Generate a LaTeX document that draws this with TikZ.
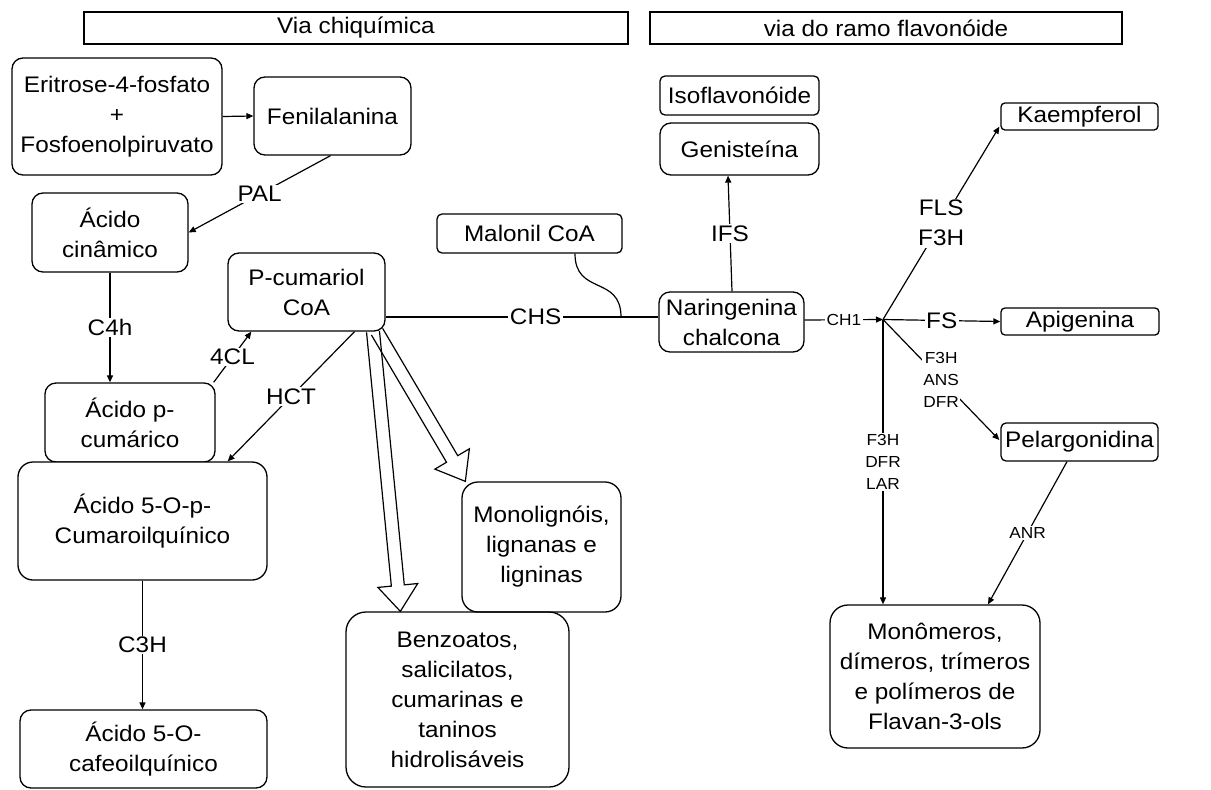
\documentclass[tikz,border=0pt]{standalone}
\usepackage{fontspec}
\setmainfont{Liberation Sans}[FakeStretch=1.08]
\usetikzlibrary{arrows.meta,calc}
\begin{document}
\begin{tikzpicture}[x=1pt,y=-1pt,
  every node/.style={font=\fontsize{22.5}{30}\selectfont},
  box/.style={draw, line width=1.3pt, rounded corners=11pt, align=center, inner sep=0pt},
  sbox/.style={box, rounded corners=5pt},
  hdr/.style={draw, line width=1.5pt, inner sep=0pt},
  lbl/.style={fill=white, inner sep=1.5pt, align=center},
  slbl/.style={lbl, font=\fontsize{16}{22}\selectfont},
  conn/.style={line width=1.2pt},
  arr/.style={conn, -{Triangle[length=7pt,width=6pt]}},
  hollow/.style={line width=1.2pt, line join=miter}
]
\useasboundingbox (0,0) rectangle (1211,790);

% headers
\node[hdr, minimum width=544pt, minimum height=32pt] (hl) at (356,28) {Via chiquímica};
\node[hdr, minimum width=472pt, minimum height=32pt] (hr) at (886,28) {via do ramo flavonóide};

% left side
\node[box, minimum width=210pt, minimum height=117pt] (erit) at (117,116.5) {Eritrose-4-fosfato\\+\\Fosfoenolpiruvato};
\node[box, minimum width=157pt, minimum height=78pt] (fenil) at (332.5,116) {Fenilalanina};
\node[box, minimum width=156pt, minimum height=79pt] (cinam) at (110,232.5) {Ácido\\cinâmico};
\node[box, minimum width=157pt, minimum height=78pt] (pcum) at (306.5,292) {P-cumariol\\CoA};
\node[box, minimum width=170pt, minimum height=79pt] (pcumar) at (130,422.5) {Ácido p-\\cumárico};
\node[box, rounded corners=15pt, minimum width=249pt, minimum height=118pt, fill=white] (cumaro) at (142.5,521) {Ácido 5-O-p-\\Cumaroilquínico};
\node[box, minimum width=247pt, minimum height=78pt] (cafeo) at (143.5,749) {Ácido 5-O-\\cafeoilquínico};
\node[box, rounded corners=16pt, minimum width=159pt, minimum height=130pt] (monol) at (541.5,547) {Monolignóis,\\lignanas e\\ligninas};
\node[box, rounded corners=20pt, minimum width=223pt, minimum height=175pt] (benzo) at (457.5,699.5) {Benzoatos,\\salicilatos,\\cumarinas e\\taninos\\hidrolisáveis};
\node[sbox, minimum width=185pt, minimum height=39pt] (malon) at (529.5,233.5) {Malonil CoA};

% right side
\node[box, minimum width=145pt, minimum height=60pt] (naring) at (731.5,322) {Naringenina\\chalcona};
\node[sbox, minimum width=159pt, minimum height=39pt] (isoflav) at (739.5,95.5) {Isoflavonóide};
\node[box, minimum width=159pt, minimum height=52pt] (genist) at (739.5,149) {Genisteína};
\node[sbox, rounded corners=4pt, minimum width=157pt, minimum height=27pt] (kaemp) at (1079.5,116.5) {Kaempferol};
\node[sbox, rounded corners=4pt, minimum width=158pt, minimum height=27pt] (apig) at (1080,321.5) {Apigenina};
\node[sbox, minimum width=157pt, minimum height=38pt] (pelarg) at (1079.5,442) {Pelargonidina};
\node[box, rounded corners=18pt, minimum width=210pt, minimum height=143pt] (monom) at (935,676.5) {Monômeros,\\dímeros, trímeros\\e polímeros de\\Flavan-3-ols};

% left connectors
\draw[arr] (erit.east) -- (fenil.west);
\draw[arr] ($(fenil.south)+(-2,0)$) -- node[lbl]{PAL} (cinam.east);
\draw[arr] (cinam.south) -- node[lbl]{C4h} (cinam.south |- pcumar.north);
\draw[arr] ($(pcumar.north east)+(-2,0)$) -- node[lbl]{4CL} ($(pcum.south west)+(24,0)$);
\draw[arr] ($(pcum.south)+(48,0)$) -- node[lbl]{HCT} ($(cumaro.north east)+(-40,0)$);
\draw[arr] (cumaro.south) -- node[lbl]{C3H} (cumaro.south |- cafeo.north);

% CHS line and malonil
\coordinate (chs) at (0,317);
\coordinate (mjoin) at (621,317);
\draw[conn] (pcum.east |- chs) -- node[lbl,pos=0.55]{CHS} (naring.west |- chs);
\draw[conn] ($(malon.south)+(45.5,0)$) .. controls +(0,42) and +(0,-42) .. (mjoin);

% hollow arrows
\coordinate (s1) at ($(pcum.south)+(66.5,0)$);
\coordinate (t1) at ($(benzo.north west)+(55,0)$);
\coordinate (s2) at ($(pcum.south)+(70.5,0)$);
\coordinate (t2) at ($(monol.north west)+(4,0)$);
\coordinate (b1) at ($(t1)!26pt!(s1)$);
\coordinate (b2) at ($(t2)!26pt!(s2)$);
\draw[hollow] ($(s2)!6.5pt!90:(t2)$) -- ($(b2)!6.5pt!90:(t2)$) -- ($(b2)!20pt!90:(t2)$) -- (t2)
  -- ($(b2)!20pt!-90:(t2)$) -- ($(b2)!6.5pt!-90:(t2)$) -- ($(s2)!6.5pt!-90:(t2)$);
\draw[hollow] ($(s1)!6.5pt!90:(t1)$) -- ($(b1)!6.5pt!90:(t1)$) -- ($(b1)!20pt!90:(t1)$) -- (t1)
  -- ($(b1)!20pt!-90:(t1)$) -- ($(b1)!6.5pt!-90:(t1)$) -- ($(s1)!6.5pt!-90:(t1)$);

% right connectors
\coordinate (br) at (883,319.5);
\draw[arr] ($(naring.north)+(0.5,0)$) -- node[lbl]{IFS} ($(genist.south)+(-11.5,0)$);
\draw[arr] ($(naring.east)+(0,-2)$) -- node[slbl]{CH1} (br);
\draw[arr] (br) -- node[lbl]{FLS\\F3H} ($(kaemp.south west)+(-1,-4)$);
\draw[arr] (br) -- node[lbl]{FS} (apig.west);
\draw[arr] (br) -- node[slbl]{F3H\\ANS\\DFR} ($(pelarg.west)+(-1,-2)$);
\draw[arr] (br) -- node[slbl]{F3H\\DFR\\LAR} (br |- monom.north);
\draw[arr] ($(pelarg.south)+(-12.5,0)$) -- node[slbl]{ANR} ($(monom.north)+(53,0)$);
\end{tikzpicture}
\end{document}
